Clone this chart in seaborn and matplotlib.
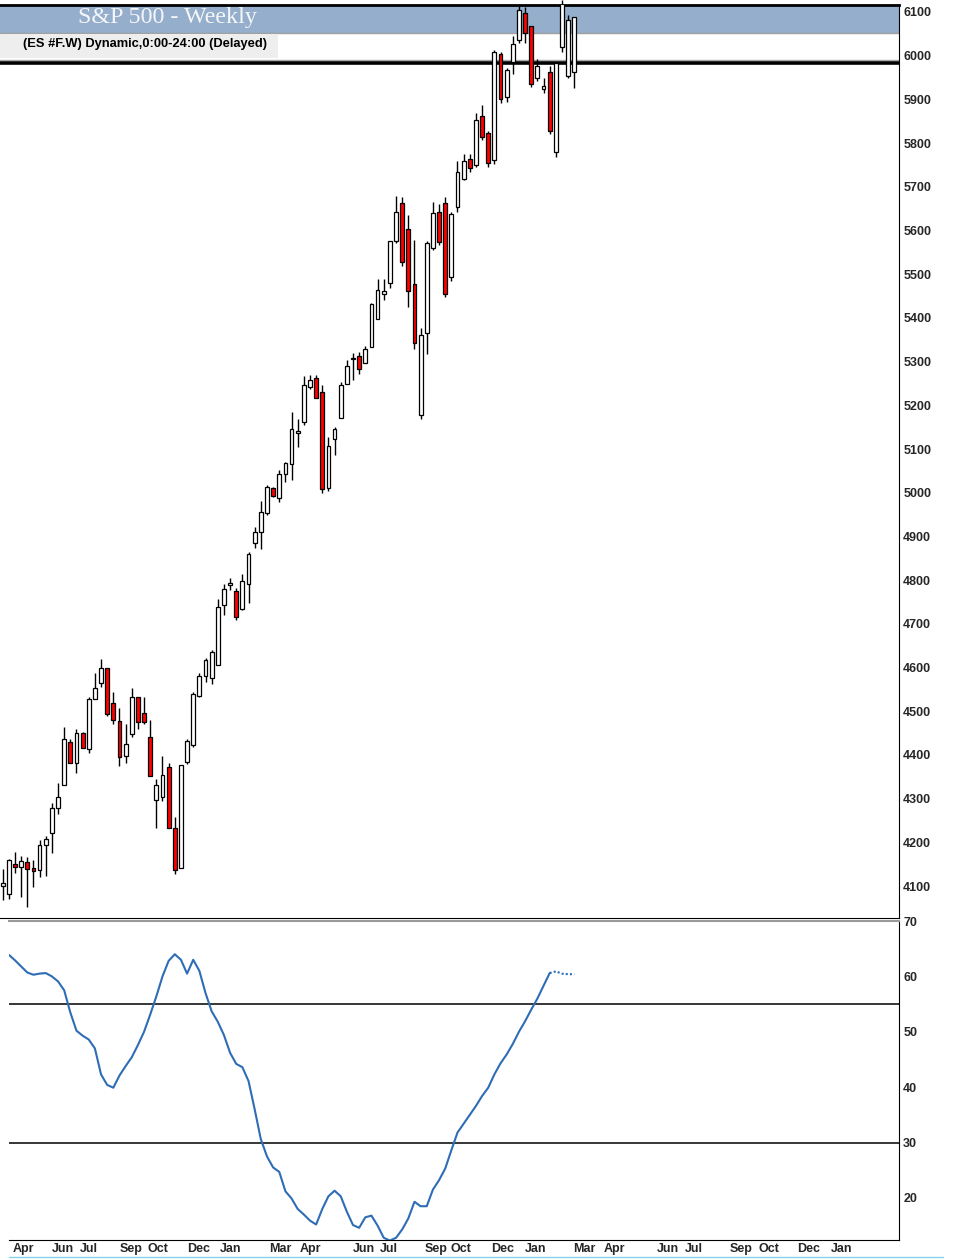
import numpy as np
import pandas as pd
import matplotlib
matplotlib.use("Agg")
import matplotlib.pyplot as plt
from matplotlib.lines import Line2D
from matplotlib.patches import Rectangle
import seaborn as sns

# =========================
# Weekly OHLC
# =========================
opens = [4100, 4083, 4150, 4144, 4156, 4142, 4137, 4195, 4221, 4279,
         4331, 4430, 4381, 4451, 4413, 4528, 4565, 4600, 4518, 4478,
         4398, 4449, 4532, 4497, 4440, 4297, 4304, 4372, 4234, 4142,
         4384, 4423, 4535, 4581, 4575, 4607, 4744, 4790, 4775, 4735,
         4792, 4884, 4911, 4954, 5012, 4989, 5044, 5065, 5136, 5162,
         5241, 5262, 5231, 5011, 5124, 5170, 5248, 5305, 5313, 5296,
         5333, 5397, 5454, 5481, 5577, 5662, 5603, 5477, 5177, 5365,
         5561, 5643, 5662, 5494, 5653, 5717, 5764, 5751, 5863, 5822,
         5761, 6004, 5905, 5985, 6037, 6097, 6068, 5950, 5923, 5962,
         5779, 6019, 5954, 5962]
highs = [4139, 4163, 4177, 4169, 4167, 4160, 4205, 4214, 4289, 4335,
         4463, 4436, 4459, 4453, 4533, 4588, 4619, 4600, 4545, 4507,
         4470, 4554, 4533, 4533, 4480, 4344, 4397, 4382, 4257, 4376,
         4436, 4545, 4587, 4621, 4640, 4756, 4791, 4804, 4781, 4814,
         4864, 4921, 4981, 5018, 5014, 5052, 5071, 5184, 5168, 5266,
         5269, 5269, 5246, 5127, 5151, 5254, 5304, 5319, 5323, 5336,
         5435, 5490, 5490, 5576, 5679, 5676, 5636, 5578, 5378, 5576,
         5666, 5660, 5676, 5643, 5759, 5775, 5775, 5870, 5887, 5828,
         6013, 6009, 5971, 6045, 6114, 6111, 6068, 5992, 5948, 5976,
         5986, 6128, 6093, 6089]
lows = [4068, 4070, 4129, 4076, 4053, 4098, 4120, 4123, 4175, 4266,
        4331, 4381, 4359, 4415, 4404, 4527, 4555, 4489, 4471, 4375,
        4382, 4440, 4459, 4472, 4352, 4234, 4295, 4232, 4127, 4142,
        4379, 4419, 4533, 4568, 4562, 4605, 4720, 4777, 4709, 4731,
        4748, 4874, 4872, 4949, 4991, 4979, 5025, 5029, 5105, 5156,
        5237, 5216, 5000, 5005, 5086, 5170, 5248, 5259, 5272, 5296,
        5333, 5397, 5441, 5468, 5572, 5519, 5424, 5328, 5169, 5317,
        5555, 5568, 5447, 5485, 5643, 5715, 5735, 5746, 5807, 5746,
        5752, 5892, 5893, 5958, 6028, 6028, 5928, 5942, 5914, 5820,
        5769, 6009, 5950, 5925]
closes = [4108, 4159, 4144, 4158, 4140, 4135, 4195, 4208, 4279, 4304,
          4436, 4382, 4451, 4417, 4527, 4554, 4600, 4494, 4481, 4396,
          4424, 4533, 4475, 4475, 4352, 4331, 4354, 4232, 4137, 4376,
          4432, 4539, 4581, 4617, 4635, 4739, 4779, 4792, 4716, 4798,
          4859, 4911, 4955, 5013, 4992, 5042, 5067, 5145, 5141, 5246,
          5259, 5216, 5008, 5108, 5147, 5246, 5291, 5309, 5284, 5330,
          5432, 5464, 5462, 5576, 5643, 5527, 5461, 5342, 5361, 5572,
          5639, 5574, 5455, 5638, 5735, 5760, 5742, 5854, 5814, 5754,
          6008, 5901, 5967, 6026, 6105, 6051, 5935, 5976, 5931, 5828,
          5983, 6124, 6082, 6088]

# Lower panel oscillator, one value per week
oscillator = [64.3,
              63.9, 62.9, 61.8, 60.7, 60.3, 60.5, 60.6, 60.0, 59.1, 57.5,
              53.5, 50.2, 49.3, 48.6, 47.0, 42.3, 40.4, 39.9, 42.1, 43.8,
              45.4, 47.6, 50.0, 53.1, 56.4, 60.0, 62.8, 64.0, 63.0, 60.5,
              63.0, 61.0, 57.0, 53.7, 51.8, 49.4, 46.2, 44.2, 43.6, 41.1,
              36.0, 30.6, 27.5, 25.5, 24.7, 21.2, 19.9, 18.0, 17.0, 15.9,
              15.2, 18.0, 20.3, 21.3, 20.3, 17.5, 15.1, 14.6, 16.5, 16.8,
              15.0, 12.8, 12.3, 12.8, 14.3, 16.3, 19.3, 18.5, 18.5, 21.5,
              23.2, 25.3, 28.6, 31.8, 33.4, 35.0, 36.6, 38.4, 39.9, 42.3,
              44.3, 45.9, 47.8, 50.0, 51.9, 54.0, 56.0, 58.3, 60.6, 60.9,
              60.5, 60.4, 60.4]
osc_solid_end = 90  # last part drawn dotted

# Axis labels / levels
month_labels = ["Apr", "Jun", "Jul", "Sep", "Oct", "Dec", "Jan", "Mar", "Apr",
                "Jun", "Jul", "Sep", "Oct", "Dec", "Jan", "Mar", "Apr", "Jun",
                "Jul", "Sep", "Oct", "Dec", "Jan"]
month_pos = [1.7, 8.0, 12.6, 19.1, 23.6, 30.0, 35.4, 43.3, 48.4, 57.0, 61.4,
             68.6, 72.8, 79.5, 85.0, 92.8, 97.8, 106.5, 111.0, 118.3, 122.9,
             129.2, 134.8]
price_ticks = list(range(4100, 6200, 100))
osc_ticks = [20, 30, 40, 50, 60, 70]
osc_levels = [55, 30]
band_low = 6052
price_lines = [5991, 5983]

title = "S&P 500 - Weekly"
subtitle = "(ES #F.W) Dynamic,0:00-24:00 (Delayed)"

# =========================
# Style
# =========================
sns.set_style("white")
plt.rcParams['font.family'] = ['Liberation Sans', 'DejaVu Sans']

df = pd.DataFrame({"open": opens, "high": highs, "low": lows, "close": closes})
df["week"] = np.arange(len(df))
df["up"] = df["close"] >= df["open"]
df["osc"] = oscillator

fig = plt.figure(figsize=(9.58, 12.6), dpi=100)
ax = fig.add_axes([0.0, 0.27143, 0.93841, 0.72460])
ax2 = fig.add_axes([0.009395, 0.015873, 0.92902, 0.25317])

# =========================
# Price panel
# =========================
ax.axhspan(band_low, 6300, color="#94aecb", zorder=0, lw=0)
ax.axhline(band_low, color="#a0a0a0", lw=1, zorder=1)
ax.axhline(price_lines[0], color="#a8a8a8", lw=1, zorder=1)
ax.axhline(price_lines[1], color="black", lw=2.6, zorder=1)

ax.vlines(df["week"], df["low"], df["high"], color="black", lw=1, zorder=2, clip_on=False)
body_bottom = df[["open", "close"]].min(axis=1)
body_height = (df["close"] - df["open"]).abs().clip(lower=3)
body_colors = np.where(df["up"], "white", "#ff0000")
ax.bar(df["week"], body_height, bottom=body_bottom, width=0.62,
       color=body_colors, edgecolor="black", linewidth=0.9, zorder=3)

ax.set_xlim(-0.44, 145.84)
ax.set_ylim(4027, 6116)
ax.set_xticks([])
ax.yaxis.tick_right()
ax.set_yticks(price_ticks, labels=[str(t) for t in price_ticks],
              fontweight="bold", fontsize=9)
ax.tick_params(axis="y", length=0, pad=3)
ax.spines["left"].set_visible(False)
ax.spines["top"].set_linewidth(2)
ax.spines["top"].set_color("black")
ax.spines["right"].set_color("black")
ax.spines["bottom"].set_color("black")

# =========================
# Oscillator panel
# =========================
for lvl in osc_levels:
    ax2.axhline(lvl, color="black", lw=1.1, zorder=1)

solid = df.iloc[1:osc_solid_end]
dotted = df.iloc[osc_solid_end - 1:]
sns.lineplot(x=solid["week"], y=solid["osc"], ax=ax2, color="#2e6db5", lw=1.5, zorder=3)
sns.lineplot(x=dotted["week"], y=dotted["osc"], ax=ax2, color="#2e6db5", lw=1.5,
             linestyle=(0, (1, 1)), zorder=3)

ax2.set_xlim(1.025, 145.84)
ax2.set_ylim(12.4, 70.0)
ax2.set_xlabel("")
ax2.set_ylabel("")
ax2.yaxis.tick_right()
ax2.set_yticks(osc_ticks, labels=[str(t) for t in osc_ticks],
               fontweight="bold", fontsize=9)
ax2.set_xticks(month_pos, labels=month_labels, fontweight="bold", fontsize=9,
               ha="left")
ax2.tick_params(axis="y", length=0, pad=3)
ax2.tick_params(axis="x", length=0, pad=2)
ax2.spines["left"].set_visible(False)
ax2.spines["top"].set_color("#9a9a9a")
ax2.spines["top"].set_linewidth(1.5)
ax2.spines["right"].set_color("black")
ax2.spines["bottom"].set_color("black")

# =========================
# Header texts
# =========================
fig.patches.append(Rectangle((0, 1 - 58 / 1260), 278 / 958, 24 / 1260,
                             transform=fig.transFigure, facecolor="#eeeeee",
                             edgecolor="none", zorder=1))
fig.text(78 / 958, 1 - 17 / 1260, title, family="Liberation Serif", fontsize=17.3,
         color="#f4f6f9", va="center", ha="left")
fig.text(23 / 958, 1 - 44 / 1260, subtitle, fontsize=9.3, fontweight="bold",
         color="black", va="center", ha="left")
fig.add_artist(Line2D([9 / 958, 943 / 958], [1 - 1257 / 1260] * 2,
                      transform=fig.transFigure, color="#86d4e8", lw=1))

fig.savefig("out.png", dpi=100)
